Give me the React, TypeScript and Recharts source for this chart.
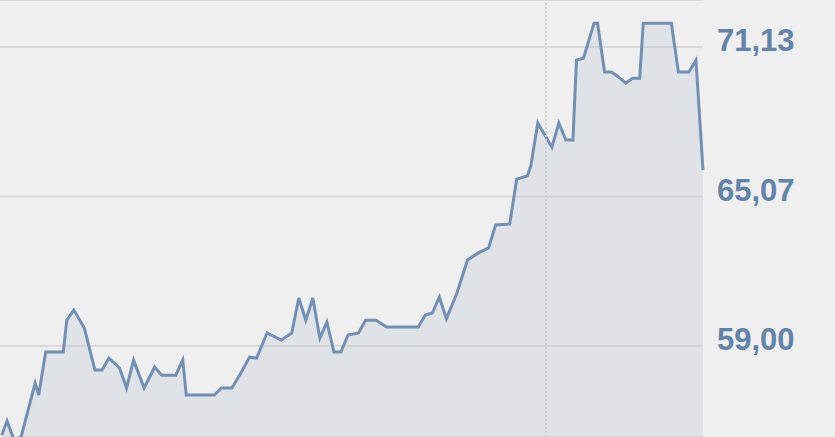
import { AreaChart, Area, XAxis, YAxis, CartesianGrid, ReferenceLine } from 'recharts'

// trading-day offsets and closing prices
const days = [
  0, 2, 4, 6, 10, 11, 13, 18, 19, 21, 24, 27, 29, 31, 34, 36, 38, 41, 44, 46,
  50, 52, 53, 61, 63, 66, 69, 71, 73, 76, 80, 83, 85, 87, 89, 91, 93, 95, 97, 99,
  102, 104, 107, 110, 119, 121, 123, 125, 127, 130, 133, 136, 139, 141, 145, 147, 150, 151, 153, 157,
  159, 161, 163, 164, 166, 169, 170, 172, 174, 176, 178, 180, 182, 183, 191, 193, 196, 198, 200,
]

const prices = [
  55.19, 55.96, 55.19, 55.31, 57.5, 57.01, 58.76, 58.76, 60.05, 60.46, 59.73, 58.03, 58.03, 58.51, 58.11, 57.3, 58.43, 57.3, 58.15, 57.82,
  57.82, 58.43, 57.01, 57.01, 57.3, 57.3, 58.03, 58.55, 58.51, 59.53, 59.24, 59.53, 60.95, 60.05, 60.95, 59.32, 59.97, 58.76, 58.76, 59.45,
  59.53, 60.05, 60.05, 59.77, 59.77, 60.26, 60.34, 60.99, 60.1, 61.15, 62.49, 62.77, 62.98, 63.91, 63.95, 65.77, 65.9, 66.3, 68.05, 67.07,
  68.05, 67.36, 67.36, 70.6, 70.68, 72.1, 72.1, 70.12, 70.12, 69.91, 69.67, 69.87, 69.87, 72.1, 72.1, 70.12, 70.12, 70.6, 66.14,
]

const priceTicks = [59.0, 65.07, 71.13]
const yearMark = 155.3

const data = days.map((d, i) => ({ day: d, price: prices[i] }))

const fmt = (v: number) => v.toFixed(2).replace('.', ',')

function PriceTick(props: any) {
  const { x, y, payload } = props
  return (
    <text
      x={x + 6}
      y={y - 7}
      dy="0.36em"
      textAnchor="start"
      fill="#6283aa"
      fontSize={31}
      fontWeight="bold"
      fontFamily="Liberation Sans, Arial, sans-serif"
    >
      {fmt(payload.value)}
    </text>
  )
}

export default function App() {
  return (
    <div style={{ position: 'absolute', left: 0, top: 0, width: 835, height: 437, background: '#efefef' }}>
      <AreaChart width={835} height={437} data={data} margin={{ top: 0, right: 0, bottom: 0, left: 0 }}>
        <CartesianGrid vertical={false} stroke="#dadada" strokeWidth={2} />
        <XAxis dataKey="day" type="number" domain={[0, 200]} hide />
        <YAxis
          orientation="right"
          width={132}
          domain={[55.31, 73.04]}
          allowDataOverflow
          ticks={priceTicks}
          axisLine={false}
          tickLine={false}
          tick={<PriceTick />}
        />
        <ReferenceLine x={yearMark} stroke="#cfcfcf" strokeWidth={2} strokeDasharray="2 2" />
        <Area
          type="linear"
          dataKey="price"
          stroke="#7290b4"
          strokeWidth={3}
          fill="#b9c8d8"
          fillOpacity={0.3}
          isAnimationActive={false}
        />
      </AreaChart>
    </div>
  )
}
